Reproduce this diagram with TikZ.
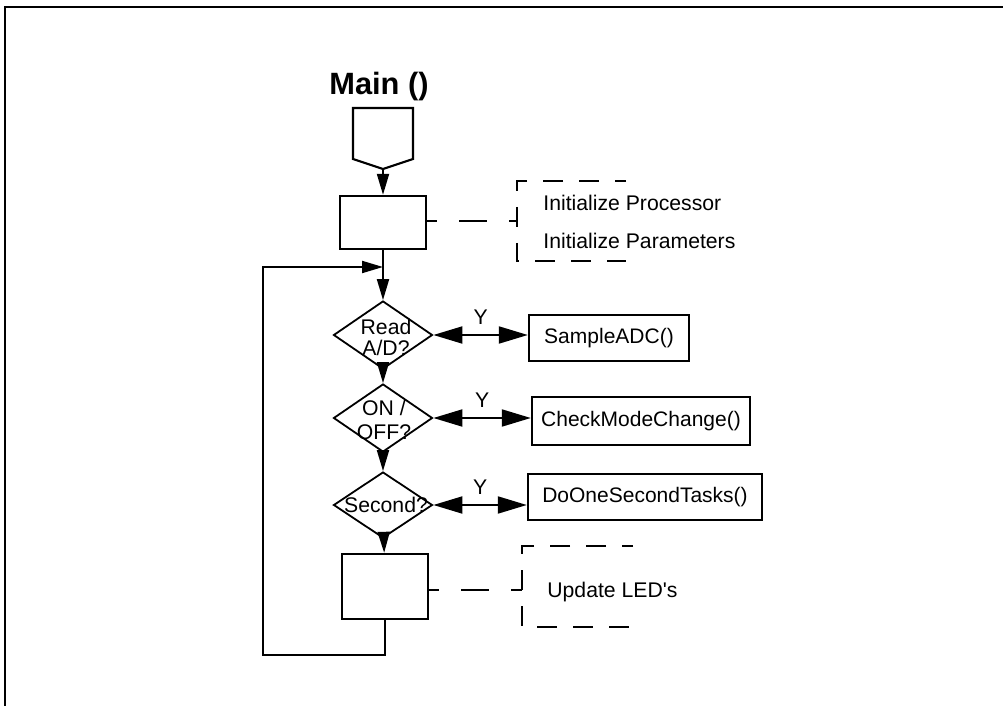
\documentclass[tikz,border=0pt]{standalone}
\usepackage{fontspec}
\setmainfont{Liberation Sans}
\usetikzlibrary{arrows.meta,shapes.geometric}

\tikzset{
  box/.style={draw, line width=1.2pt, rectangle, inner sep=0pt, font=\fontsize{10.5}{12}\selectfont},
  decision/.style={draw, line width=0.9pt, diamond, inner sep=0pt, minimum width=49.5pt, minimum height=34pt},
  dtext/.style={align=center, inner sep=0pt, font=\fontsize{10.6}{10.5}\selectfont},
  notetext/.style={anchor=west, inner sep=0pt, font=\fontsize{10.6}{12}\selectfont},
  flow/.style={line width=1pt, -{Triangle[length=10.5pt,width=6pt]}},
  both/.style={line width=1pt, {Triangle[length=14.5pt,width=8.5pt]}-{Triangle[length=14.5pt,width=8.5pt]}},
  link/.style={line width=1.2pt, dash pattern=on 14pt off 11pt, dash phase=9pt},
  bracket/.style={line width=1.2pt, dash pattern=on 10pt off 8pt, dash phase=4.5pt},
}

\begin{document}
\begin{tikzpicture}[x=0.5pt,y=-0.5pt]
\def\xc{383};

\useasboundingbox (0,0) rectangle (1003,706);

% frame
\draw[line width=1.2pt] (1003,7) -- (5,7) -- (5,706);

\node[font=\fontsize{15.4}{18}\selectfont\bfseries] (title) at (379,87) {Main ()};

% entry point
\draw[line width=1.1pt] (\xc - 30,108) -- (\xc + 30,108) -- (\xc + 30,159) -- (\xc,169) -- (\xc - 30,159) -- cycle;
\coordinate (entry) at (\xc,169);

\node[box, minimum width=43pt, minimum height=26.5pt] (init) at (\xc,222.5) {};
\draw[flow] (entry) -- (init);

% decisions
\node[decision] (adc) at (\xc,335) {};
\node[dtext] at (\xc + 3,337.5) {Read\\A/D?};
\node[decision] (onoff) at (\xc,418) {};
\node[dtext, font=\fontsize{10.6}{12}\selectfont] at (\xc + 1,420) {ON /\\OFF?};
\node[decision, minimum height=33pt] (sec) at (\xc,505) {};
\node[dtext] at (\xc + 3,505) {Second?};

\node[box, minimum width=43pt, minimum height=32.5pt] (upd) at (\xc + 2,586.5) {};

\draw[flow] (init) -- (adc);
\draw[flow] (adc) -- (onoff);
\draw[flow] (onoff) -- (sec);
\draw[flow] (sec) -- (upd);

% tasks
\node[box, minimum width=80pt, minimum height=23pt] (sample) at (609,338) {SampleADC()};
\node[box, minimum width=109pt, minimum height=24pt] (mode) at (641,421) {CheckModeChange()};
\node[box, minimum width=117pt, minimum height=23pt] (tasks) at (645,497) {DoOneSecondTasks()};

\draw[both] (adc.east) -- (adc.east -| sample.west) node[midway, above=1.5pt, font=\fontsize{10.6}{12}\selectfont] {Y};
\draw[both] (onoff.east) -- (onoff.east -| mode.west) node[midway, above=1.5pt, font=\fontsize{10.6}{12}\selectfont] {Y};
\draw[both] (sec.east) -- (sec.east -| tasks.west) node[midway, above=1.5pt, font=\fontsize{10.6}{12}\selectfont] {Y};

% main loop
\coordinate (loopbot) at (263,655);
\coordinate (merge) at (\xc,267);
\draw[flow] (upd.south) |- (loopbot) |- (merge);

% notes
\coordinate (initnote) at (517,221);
\draw[link] (init.east |- initnote) -- (initnote);
\draw[bracket] (626,181) -- (517,181) -- (517,261) -- (626,261);
\node[notetext] (proc) at (543,203) {Initialize Processor};
\node[notetext] (par) at (543,241) {Initialize Parameters};

\coordinate (updnote) at (522,590);
\draw[link] (upd.east |- updnote) -- (updnote);
\draw[bracket] (633,546) -- (522,546) -- (522,627) -- (633,627);
\node[notetext] (led) at (547,592) {Update LED\textquotesingle s};

\end{tikzpicture}
\end{document}
